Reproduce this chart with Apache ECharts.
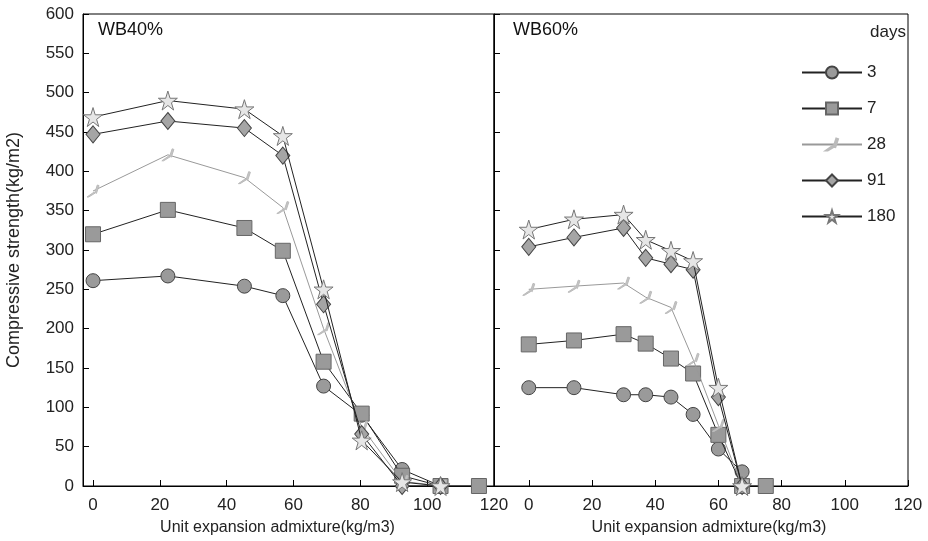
<!DOCTYPE html>
<html><head><meta charset="utf-8">
<script src="https://cdn.jsdelivr.net/npm/echarts@6/dist/echarts.min.js"></script>
<style>html,body{margin:0;padding:0;background:#fff}#c{width:928px;height:541px}</style>
</head><body><div id="c"></div>
<script>
const seriesNames = ['3', '7', '28', '91', '180'];
const xTicks = [0, 20, 40, 60, 80, 100, 120];
const yTicks = [0, 50, 100, 150, 200, 250, 300, 350, 400, 450, 500, 550, 600];

// WB40% panel
const xLeft = [0, 22.4, 45.3, 56.8, 69, 80.4, 92.5, 104, 115.5];
const left3   = [261, 267, 254, 242, 127, 90, 21, 0, null];
const left7   = [320, 351, 328, 299, 158, 92, 13, 0, 0];
const left28  = [375, 421, 392, 354, 200, 75, 6, 0, null];
const left91  = [447, 464, 455, 420, 231, 66, 0, 0, null];
const left180 = [469, 490, 479, 445, 250, 58, 5, 0, null];

// WB60% panel
const xRight = [0, 14.3, 30, 37, 45, 52, 60, 67.5, 75];
const right3   = [125, 125, 116, 116, 113, 91, 47, 18, null];
const right7   = [180, 185, 193, 181, 162, 143, 65, 0, 0];
const right28  = [250, 254, 258, 240, 227, 161, 77, 0, null];
const right91  = [304, 316, 328, 290, 282, 275, 113, 0, null];
const right180 = [326, 339, 345, 313, 299, 286, 125, 0, null];

const leftVals = [left3, left7, left28, left91, left180];
const rightVals = [right3, right7, right28, right91, right180];

function pairs(xs, ys) {
  const out = [];
  xs.forEach((x, i) => { if (ys[i] !== null) out.push([x, ys[i]]); });
  return out;
}

const starPath = 'path://M50,0 L61,35 L98,35 L68,57 L79,92 L50,70 L21,92 L32,57 L2,35 L39,35 Z';
const tickPath = 'path://M0,100 L40,60 L45,65 L60,0 L70,5 L55,70 L50,65 L10,100 Z';
const styles = [
  { symbol: 'circle', size: 14, fill: '#9a9a9a', border: '#444', line: '#222' },
  { symbol: 'rect', size: 15, fill: '#9a9a9a', border: '#666', line: '#222' },
  { symbol: tickPath, size: 12, fill: '#c4c4c4', border: '#bbb', line: '#999' },
  { symbol: 'diamond', size: [14, 17], fill: '#a5a5a5', border: '#444', line: '#222' },
  { symbol: starPath, size: 19, fill: '#e6e6e6', border: '#777', line: '#222' }
];

const font = 'Liberation Sans, Arial, sans-serif';
const series = [];
[[leftVals, xLeft, 0], [rightVals, xRight, 1]].forEach(([vals, xs, gi]) => {
  vals.forEach((ys, k) => {
    const s = styles[k];
    series.push({
      name: seriesNames[k], type: 'line', xAxisIndex: gi, yAxisIndex: gi,
      data: pairs(xs, ys),
      symbol: s.symbol, symbolSize: s.size, showAllSymbol: true,
      lineStyle: { color: s.line, width: 1 },
      itemStyle: { color: s.fill, borderColor: s.border, borderWidth: 1 },
      emphasis: { disabled: true }, animation: false, z: 2 + k
    });
  });
});

function xAxis(gi, min, pad) {
  return {
    type: 'value', gridIndex: gi, min: min, max: 120,
    name: 'Unit expansion admixture(kg/m3)', nameLocation: 'middle', nameGap: 34,
    nameTextStyle: { fontSize: 16, color: '#222', fontFamily: font, padding: pad },
    axisLine: { show: true, onZero: false, lineStyle: { color: '#000' } },
    axisTick: { show: true, inside: true, length: 6, customValues: xTicks, lineStyle: { color: '#000' } },
    axisLabel: { fontSize: 17, color: '#222', fontFamily: font, margin: 11, customValues: xTicks, showMaxLabel: true, showMinLabel: true },
    splitLine: { show: false }
  };
}
function yAxis(gi, showLabel) {
  return {
    type: 'value', gridIndex: gi, min: 0, max: 600, interval: 50,
    name: showLabel ? 'Compressive strength(kg/m2)' : '', nameLocation: 'middle', nameGap: 60,
    nameTextStyle: { fontSize: 18, color: '#222', fontFamily: font },
    axisLine: { show: true, onZero: false, lineStyle: { color: '#000' } },
    axisTick: { show: true, inside: true, length: 6, lineStyle: { color: '#000' } },
    axisLabel: { show: showLabel, fontSize: 17, color: '#222', fontFamily: font, margin: 9 },
    splitLine: { show: false }
  };
}

const chart = echarts.init(document.getElementById('c'), null, { renderer: 'canvas' });
chart.setOption({
  animation: false,
  backgroundColor: '#fff',
  grid: [
    { left: 83, top: 14, width: 411, height: 473, show: true, borderColor: '#000', borderWidth: 1, backgroundColor: 'transparent' },
    { left: 494, top: 14, width: 414, height: 473, show: true, borderColor: '#000', borderWidth: 1, backgroundColor: 'transparent' }
  ],
  xAxis: [xAxis(0, -3, [0, 22, 0, 0]), xAxis(1, -11, [0, 0, 0, 16])],
  yAxis: [yAxis(0, true), yAxis(1, false)],
  legend: {
    data: seriesNames, orient: 'vertical', left: 796, top: 59,
    itemWidth: 60, itemHeight: 15, itemGap: 19,
    textStyle: { fontSize: 17, color: '#222', fontFamily: font },
    selectedMode: false
  },
  graphic: [
    { type: 'text', left: 98, top: 21, style: { text: 'WB40%', fontSize: 18, fill: '#111', fontFamily: font } },
    { type: 'text', left: 513, top: 21, style: { text: 'WB60%', fontSize: 18, fill: '#111', fontFamily: font } },
    { type: 'text', right: 22, top: 24, style: { text: 'days', fontSize: 17, fill: '#222', fontFamily: font } }
  ],
  series: series
});
</script></body></html>
